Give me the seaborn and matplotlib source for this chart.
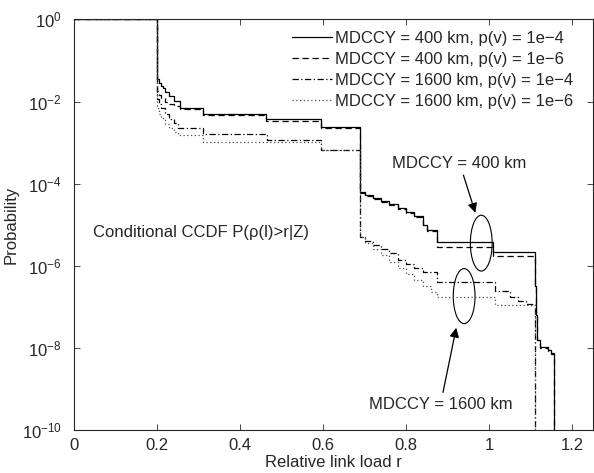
import numpy as np
import pandas as pd
import seaborn as sns
import matplotlib.pyplot as plt
from matplotlib.patches import Ellipse

# Relative link load breakpoints and log10(probability)
r_400_4 = [0, 0.2, 0.205, 0.21, 0.215, 0.22, 0.23, 0.24, 0.255, 0.31, 0.463, 0.595,
           0.69, 0.70, 0.72, 0.74, 0.76, 0.78, 0.80, 0.82, 0.84, 0.85, 0.875, 1.01,
           1.11, 1.112, 1.115, 1.123, 1.142, 1.15, 1.157]
lp_400_4 = [0, -1.45, -1.55, -1.62, -1.68, -1.76, -1.86, -1.98, -2.16, -2.30, -2.43, -2.62,
            -4.20, -4.28, -4.35, -4.42, -4.50, -4.60, -4.70, -4.80, -5.00, -5.13, -5.43, -5.67,
            -6.50, -7.20, -7.80, -7.97, -8.05, -8.12, -12]

r_400_6 = [0, 0.2, 0.205, 0.21, 0.22, 0.23, 0.24, 0.255, 0.31, 0.463, 0.595,
           0.69, 0.70, 0.72, 0.74, 0.76, 0.78, 0.80, 0.82, 0.84, 0.85, 0.875, 1.01,
           1.11, 1.112, 1.115, 1.123, 1.142, 1.15, 1.157]
lp_400_6 = [0, -1.75, -1.85, -1.92, -2.00, -2.06, -2.12, -2.19, -2.33, -2.47, -2.65,
            -4.22, -4.30, -4.37, -4.44, -4.52, -4.62, -4.72, -4.82, -5.02, -5.16, -5.54, -5.76,
            -6.50, -7.20, -7.82, -8.00, -8.08, -8.15, -12]

r_1600_4 = [0, 0.2, 0.205, 0.21, 0.22, 0.23, 0.24, 0.25, 0.31, 0.465, 0.595,
            0.69, 0.70, 0.72, 0.74, 0.76, 0.78, 0.80, 0.82, 0.84, 0.875, 1.015,
            1.05, 1.07, 1.09, 1.11]
lp_1600_4 = [0, -1.95, -2.05, -2.15, -2.30, -2.42, -2.52, -2.65, -2.79, -2.93, -3.18,
             -5.30, -5.40, -5.50, -5.60, -5.70, -5.85, -5.95, -6.05, -6.15, -6.40, -6.62,
             -6.75, -6.85, -6.93, -12]

r_1600_6 = [0, 0.2, 0.205, 0.21, 0.22, 0.23, 0.24, 0.25, 0.31, 0.595,
            0.69, 0.70, 0.72, 0.74, 0.76, 0.78, 0.80, 0.82, 0.84, 0.86, 0.875, 1.015, 1.11]
lp_1600_6 = [0, -2.15, -2.30, -2.40, -2.55, -2.65, -2.75, -2.82, -2.99, -3.18,
             -5.30, -5.45, -5.60, -5.75, -5.90, -6.05, -6.20, -6.35, -6.50, -6.65, -6.76, -6.95, -12]

labels = ['MDCCY = 400 km, p(v) = 1e\u22124', 'MDCCY = 400 km, p(v) = 1e\u22126',
          'MDCCY = 1600 km, p(v) = 1e\u22124', 'MDCCY = 1600 km, p(v) = 1e\u22126']
x_ticks = [0, 0.2, 0.4, 0.6, 0.8, 1.0, 1.2]
x_tick_labels = ['0', '0.2', '0.4', '0.6', '0.8', '1', '1.2']
y_ticks = [1e0, 1e-2, 1e-4, 1e-6, 1e-8, 1e-10]

FS = 12

sns.set_style("ticks")
plt.rcParams['font.family'] = ['Liberation Sans', 'DejaVu Sans']
plt.rcParams['xtick.direction'] = 'in'
plt.rcParams['ytick.direction'] = 'in'

fig, ax = plt.subplots(figsize=(5.94, 4.73), dpi=100)
fig.subplots_adjust(left=0.1246, right=0.998, top=0.959, bottom=0.091)

series = [(r_400_4, lp_400_4, '-', '0.0'),
          (r_400_6, lp_400_6, (0, (5, 3)), '0.0'),
          (r_1600_4, lp_1600_4, (0, (5, 2, 1, 2)), '0.0'),
          (r_1600_6, lp_1600_6, (0, (1, 2)), '0.3')]
for (r, lp, ls, col), lab in zip(series, labels):
    df = pd.DataFrame({'r': r, 'p': 10 ** np.array(lp, dtype=float)})
    sns.lineplot(data=df, x='r', y='p', ax=ax, color=col, linestyle=ls, linewidth=0.9,
                 drawstyle='steps-post', sort=False, estimator=None, label=lab)

ax.set_yscale('log')
ax.set_xlim(0, 1.25)
ax.set_ylim(1e-10, 1)
ax.set_xticks(x_ticks)
ax.set_xticklabels(x_tick_labels)
ax.set_yticks(y_ticks)
ax.minorticks_off()
ax.tick_params(top=True, right=True, labelsize=FS, length=4, width=0.6)
ax.tick_params(axis='x', pad=6)
ax.tick_params(axis='y', pad=9)
for s in ax.spines.values():
    s.set_linewidth(0.8)

ax.set_xlabel('Relative link load r', fontsize=FS, labelpad=1)
ax.set_ylabel('Probability', fontsize=FS, labelpad=2)

ax.legend(loc='upper right', bbox_to_anchor=(0.984, 1.0), frameon=False, fontsize=FS,
          handlelength=2.4, handletextpad=0.15, labelspacing=0.35, borderpad=0.2)

ax.text(0.046, 10 ** -5.18, 'Conditional CCDF P(\u03c1(l)>r|Z)', fontsize=FS,
        ha='left', va='center')

ax.annotate('MDCCY = 400 km', xy=(0.967, 10 ** -4.71), xytext=(0.929, 10 ** -3.5),
            fontsize=FS, ha='center', va='center',
            arrowprops=dict(arrowstyle='-|>', color='k', lw=0.9, shrinkA=1, shrinkB=0,
                            mutation_scale=14))
ax.annotate('MDCCY = 1600 km', xy=(0.921, 10 ** -7.51), xytext=(0.883, 10 ** -9.38),
            fontsize=FS, ha='center', va='center',
            arrowprops=dict(arrowstyle='-|>', color='k', lw=0.9, shrinkA=1, shrinkB=0,
                            mutation_scale=14))

ax.add_patch(Ellipse((0.785, 0.455), 0.042, 0.136, transform=ax.transAxes,
                     fill=False, edgecolor='k', lw=0.8))
ax.add_patch(Ellipse((0.752, 0.326), 0.042, 0.134, transform=ax.transAxes,
                     fill=False, edgecolor='k', lw=0.8))

fig.savefig('out.png', dpi=100)
